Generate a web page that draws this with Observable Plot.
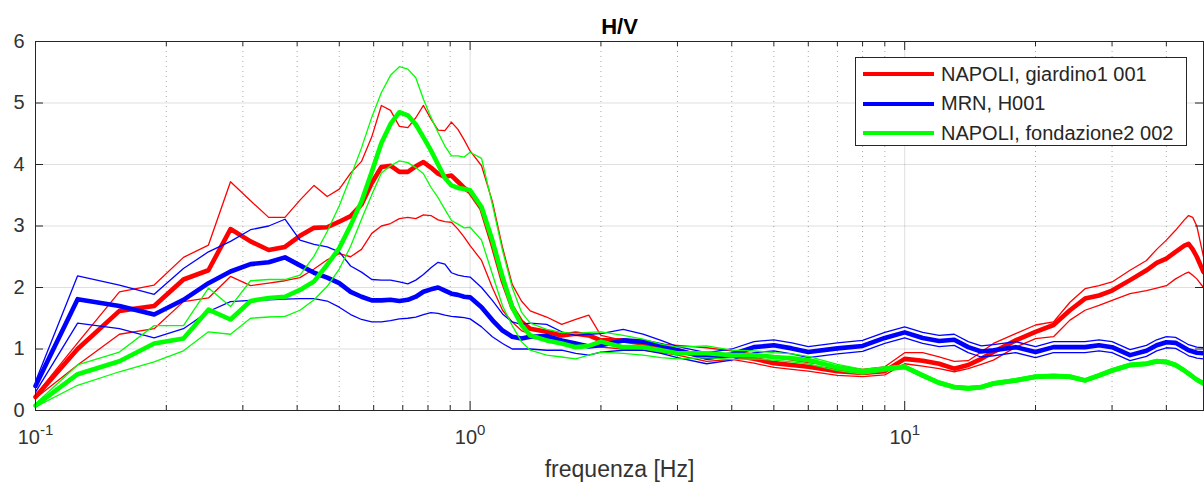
<!DOCTYPE html>
<html><head><meta charset="utf-8">
<script src="https://cdn.jsdelivr.net/npm/d3@7"></script>
<script src="https://cdn.jsdelivr.net/npm/@observablehq/plot@0.6"></script>
<style>
html,body{margin:0;padding:0;background:#fff;}
#wrap{position:relative;width:1204px;height:492px;font-family:"Liberation Sans",Arial,sans-serif;}
#legend{position:absolute;left:855px;top:57px;width:332px;height:89px;border:1.5px solid #262626;background:#fff;box-sizing:border-box;}
.row{position:absolute;left:0;height:30px;display:flex;align-items:center;}
.swatch{width:71px;height:4px;margin-left:7px;margin-right:7px;}
.lab{font-size:20px;color:#262626;white-space:nowrap;}
</style></head><body><div id="wrap"></div>
<script>
const title = "H/V";
const xLabel = "frequenza [Hz]";
const seriesNames = ["NAPOLI, giardino1 001", "MRN, H001", "NAPOLI, fondazione2 002"];
const seriesColors = ["#ff0000", "#0000ff", "#00ff00"];
const yTicks = [0, 1, 2, 3, 4, 5, 6];
const xMajor = [0.1, 1, 10];
const xMajorLabels = ["10^-1", "10^0", "10^1"];
const xMinor = [0.2,0.3,0.4,0.5,0.6,0.7,0.8,0.9,2,3,4,5,6,7,8,9,20,30,40];

const freq = [0.1,0.125,0.156,0.1875,0.219,0.25,0.281,0.3125,0.344,0.375,
0.406,0.4375,0.469,0.5,0.531,0.5625,0.594,0.625,0.656,0.6875,
0.719,0.75,0.781,0.8125,0.844,0.875,0.906,0.9375,0.969,1.0,
1.0625,1.125,1.1875,1.25,1.3125,1.375,1.5,1.625,1.75,1.875,
2.0,2.25,2.5,2.75,3.0,3.5,4,4.5,5,5.5,
6,7,8,9,10,11,12,13,14,15,
16,18,20,22,24,26,28,30,33,36,
38,40,42,44,45,46,47,48.7];

const redMean = [0.22,1.0,1.62,1.70,2.13,2.28,2.95,2.75,2.61,2.66,
2.84,2.97,2.98,3.07,3.16,3.35,3.70,3.96,3.98,3.88,
3.88,3.97,4.04,3.95,3.85,3.80,3.82,3.72,3.62,3.55,
3.28,2.71,2.12,1.68,1.44,1.33,1.28,1.22,1.25,1.22,
1.14,1.14,1.09,1.0,0.98,0.86,0.90,0.84,0.77,0.74,
0.71,0.64,0.61,0.64,0.84,0.81,0.76,0.68,0.74,0.84,
0.95,1.14,1.28,1.39,1.63,1.82,1.87,1.95,2.12,2.28,
2.40,2.47,2.58,2.68,2.71,2.62,2.50,2.25];
const redUp = [0.25,1.1,1.93,2.04,2.49,2.69,3.72,3.41,3.14,3.14,
3.42,3.66,3.48,3.60,3.86,4.05,4.45,4.96,4.88,4.62,
4.60,4.76,4.96,4.74,4.56,4.55,4.69,4.57,4.40,4.22,
3.98,3.40,2.65,2.05,1.78,1.62,1.52,1.40,1.48,1.55,
1.22,1.14,1.12,1.08,1.06,1.02,0.97,0.92,0.86,0.82,
0.78,0.72,0.67,0.71,0.94,0.94,0.87,0.80,0.81,0.95,
1.09,1.25,1.39,1.44,1.76,1.98,2.03,2.09,2.28,2.44,
2.62,2.77,2.93,3.10,3.17,3.14,3.0,2.5];
const redLo = [0.20,0.74,1.24,1.33,1.77,1.83,2.18,2.03,2.07,2.11,
2.16,2.30,2.45,2.55,2.50,2.62,2.88,3.00,3.04,3.12,
3.14,3.12,3.18,3.17,3.10,3.07,3.06,2.95,2.82,2.68,
2.44,2.0,1.63,1.44,1.30,1.24,1.16,1.12,1.08,1.06,
1.03,1.0,0.98,0.94,0.90,0.80,0.83,0.77,0.70,0.67,
0.64,0.57,0.55,0.58,0.76,0.72,0.68,0.63,0.68,0.75,
0.82,1.03,1.17,1.20,1.47,1.63,1.71,1.79,1.90,1.95,
1.99,2.03,2.14,2.22,2.25,2.20,2.14,2.0];

const blueMean = [0.40,1.81,1.70,1.56,1.80,2.07,2.26,2.38,2.41,2.49,
2.36,2.24,2.16,2.07,1.93,1.85,1.79,1.79,1.80,1.78,
1.80,1.85,1.93,1.97,2.0,1.95,1.90,1.88,1.85,1.84,
1.68,1.47,1.30,1.20,1.17,1.20,1.21,1.14,1.09,1.04,
1.06,1.14,1.12,1.06,0.98,0.86,0.91,1.03,1.06,1.01,
0.95,1.01,1.05,1.18,1.27,1.18,1.13,1.15,1.03,0.96,
0.98,1.03,0.95,1.03,1.03,1.03,1.06,1.03,0.90,0.97,
1.06,1.11,1.10,1.02,0.98,0.96,0.94,0.93];
const blueUp = [0.47,2.19,2.04,1.89,2.31,2.58,2.75,2.94,3.0,3.11,
2.77,2.70,2.66,2.58,2.35,2.25,2.13,2.12,2.12,2.09,
2.06,2.12,2.21,2.32,2.41,2.38,2.24,2.20,2.18,2.17,
2.0,1.79,1.57,1.44,1.40,1.42,1.40,1.28,1.22,1.24,
1.25,1.32,1.24,1.14,1.04,0.94,1.0,1.12,1.15,1.10,
1.04,1.10,1.14,1.27,1.36,1.27,1.22,1.24,1.12,1.05,
1.07,1.12,1.04,1.12,1.12,1.12,1.15,1.12,0.99,1.06,
1.15,1.20,1.19,1.11,1.07,1.05,1.03,1.02];
const blueLo = [0.30,1.42,1.33,1.18,1.33,1.61,1.77,1.79,1.80,1.81,
1.82,1.82,1.78,1.68,1.56,1.48,1.44,1.44,1.46,1.49,
1.50,1.52,1.56,1.59,1.58,1.55,1.53,1.52,1.51,1.49,
1.36,1.20,1.09,1.0,1.0,1.0,0.98,0.98,0.93,0.90,
0.95,0.98,0.98,0.93,0.86,0.76,0.82,0.94,0.97,0.92,
0.86,0.92,0.96,1.09,1.18,1.09,1.04,1.06,0.94,0.87,
0.89,0.94,0.86,0.94,0.94,0.94,0.97,0.94,0.81,0.88,
0.97,1.02,1.01,0.93,0.89,0.87,0.85,0.84];

const greenMean = [0.08,0.59,0.80,1.09,1.17,1.64,1.48,1.78,1.83,1.85,
1.96,2.10,2.37,2.64,3.01,3.40,3.88,4.35,4.66,4.85,
4.80,4.65,4.44,4.23,4.00,3.78,3.66,3.62,3.60,3.58,
3.31,2.77,2.17,1.68,1.39,1.22,1.14,1.09,1.03,1.05,
1.12,1.03,1.03,0.98,0.93,0.93,0.90,0.90,0.87,0.85,
0.82,0.70,0.63,0.68,0.71,0.57,0.45,0.38,0.36,0.38,
0.44,0.49,0.55,0.56,0.55,0.49,0.57,0.65,0.74,0.76,
0.80,0.79,0.74,0.65,0.60,0.55,0.50,0.44];
const greenUp = [0.11,0.74,0.95,1.38,1.38,1.99,1.69,2.11,2.13,2.13,
2.20,2.51,2.91,3.33,3.80,4.27,4.77,5.17,5.45,5.59,
5.55,5.41,5.06,4.77,4.52,4.30,4.14,4.14,4.12,4.20,
4.10,3.35,2.60,2.0,1.60,1.42,1.32,1.27,1.25,1.27,
1.28,1.22,1.16,1.08,1.03,1.05,0.98,0.97,0.94,0.92,
0.88,0.75,0.67,0.71,0.74,0.60,0.48,0.41,0.39,0.41,
0.47,0.52,0.58,0.59,0.58,0.52,0.60,0.68,0.77,0.79,
0.83,0.82,0.77,0.68,0.63,0.58,0.53,0.47];
const greenLo = [0.06,0.41,0.63,0.79,0.97,1.28,1.24,1.50,1.52,1.53,
1.63,1.80,2.02,2.30,2.67,3.11,3.51,3.86,3.98,4.06,
4.03,3.95,3.85,3.63,3.46,3.27,3.09,3.03,2.97,2.98,
2.77,2.22,1.70,1.38,1.12,0.98,0.90,0.87,0.84,0.90,
0.95,0.93,0.90,0.86,0.84,0.86,0.83,0.84,0.82,0.79,
0.76,0.65,0.59,0.64,0.68,0.54,0.42,0.35,0.33,0.35,
0.41,0.46,0.52,0.53,0.52,0.46,0.54,0.62,0.71,0.73,
0.77,0.76,0.71,0.62,0.57,0.52,0.47,0.41];

const seriesData = [
  [redMean, redUp, redLo],
  [blueMean, blueUp, blueLo],
  [greenMean, greenUp, greenLo]
];

const W = 1204, H = 492, mT = 41, mB = 82, mL = 35, mR = 1;
const plotW = W - mL - mR, plotH = H - mT - mB;
const ink = "#262626";

const lineMarks = [];
seriesData.forEach((group, si) => {
  group.forEach((vals, k) => {
    const rows = vals.map((v, i) => ({f: freq[i], v}));
    lineMarks.push(Plot.line(rows, {x: "f", y: "v", stroke: seriesColors[si],
      strokeWidth: k === 0 ? 4.6 : 1.3, curve: "linear", strokeLinejoin: "round"}));
  });
});

const chart = Plot.plot({
  width: W, height: H,
  marginTop: mT, marginBottom: mB, marginLeft: mL, marginRight: mR,
  x: {type: "log", domain: [0.1, 48.7], axis: null},
  y: {domain: [0, 6], axis: null},
  style: {fontFamily: "'Liberation Sans', Arial, sans-serif", background: "#fff", color: ink, overflow: "visible"},
  marks: [
    Plot.gridY([1,2,3,4,5], {stroke: ink, strokeOpacity: 0.15}),
    Plot.gridX([1,10], {stroke: ink, strokeOpacity: 0.15}),
    Plot.gridX(xMinor, {stroke: ink, strokeOpacity: 0.4, strokeDasharray: "1,4"}),
    ...lineMarks,
    Plot.frame({stroke: ink, strokeWidth: 1}),
    Plot.tickX(xMajor, {x: d => d, insetTop: plotH - 9, stroke: ink}),
    Plot.tickX(xMajor, {x: d => d, insetBottom: plotH - 9, stroke: ink}),
    Plot.tickX(xMinor, {x: d => d, insetTop: plotH - 5, stroke: ink}),
    Plot.tickX(xMinor, {x: d => d, insetBottom: plotH - 5, stroke: ink}),
    Plot.tickY(yTicks, {y: d => d, insetRight: plotW - 8, stroke: ink}),
    Plot.tickY(yTicks, {y: d => d, insetLeft: plotW - 8, stroke: ink}),
    Plot.axisY(yTicks, {tickSize: 0, tickPadding: 11, fontSize: 20, label: null, fill: "#333", tickFormat: d => String(d)}),
    Plot.text(xMajor, {x: d => d, text: (d, i) => xMajorLabels[i], frameAnchor: "bottom", dy: 33, fontSize: 20, fill: "#333"}),
    Plot.text([xLabel], {frameAnchor: "bottom", dy: 66, fontSize: 23, fill: "#333"}),
    Plot.text([title], {frameAnchor: "top", dy: -23, fontSize: 22, fontWeight: "bold", fill: "#000"})
  ]
});

// superscript exponents on log tick labels
chart.querySelectorAll("text").forEach(t => {
  const m = /^10\^(.+)$/.exec(t.textContent);
  if (m) {
    t.textContent = "";
    const ns = "http://www.w3.org/2000/svg";
    const a = document.createElementNS(ns, "tspan"); a.textContent = "10";
    const b = document.createElementNS(ns, "tspan"); b.textContent = m[1];
    b.setAttribute("dy", "-9"); b.setAttribute("font-size", "15");
    t.appendChild(a); t.appendChild(b);
  }
});

const wrap = document.getElementById("wrap");
wrap.appendChild(chart);

const legend = document.createElement("div");
legend.id = "legend";
seriesNames.forEach((name, i) => {
  const row = document.createElement("div");
  row.className = "row";
  row.style.top = (1 + i * 29.5) + "px";
  const sw = document.createElement("div");
  sw.className = "swatch"; sw.style.background = seriesColors[i];
  const lab = document.createElement("span");
  lab.className = "lab"; lab.textContent = name;
  row.appendChild(sw); row.appendChild(lab);
  legend.appendChild(row);
});
wrap.appendChild(legend);
</script></body></html>
